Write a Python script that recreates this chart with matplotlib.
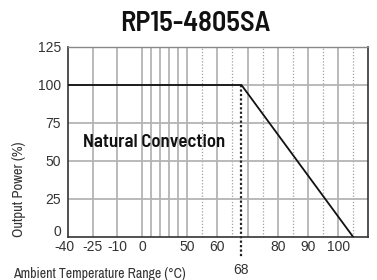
import numpy as np
import matplotlib
matplotlib.use("Agg")
import matplotlib.pyplot as plt
import matplotlib.transforms as mtransforms

# Data
temp = [-40, 68, 105]
power = [100, 100, 0]
xtick_vals = [-40, -25, -10, 0, 50, 60, 80, 90, 100]
xtick_labels = ["-40", "-25", "-10", "0", "50", "60", "80", "90", "100"]
solid_grid = [-25, -10, 0, 10, 20, 30, 40, 50, 60, 70, 80, 90, 100]
dotted_grid = [55, 65, 75, 85, 95, 105]
knee = 68
yticks = [0, 25, 50, 75, 100, 125]

# piecewise axis (non-linear temperature axis)
bp_t = [-40, -25, -10, 0, 50, 110]
bp_u = [0, 24.5, 49, 74, 119, 300]

def fwd(x):
    return np.interp(x, bp_t, bp_u, left=-1e3, right=1e3)

def inv(u):
    return np.interp(u, bp_u, bp_t)

cond = ["Barlow Semi Condensed", "DejaVu Sans"]
narrow = ["Archivo Narrow", "DejaVu Sans"]
reg = ["Liberation Sans", "DejaVu Sans"]

fig = plt.figure(figsize=(3.77, 2.80), dpi=100)
ax = fig.add_axes([68/377, 1-237/280, 300.3/377, 190/280])
ax.set_xscale("function", functions=(fwd, inv))
ax.set_xlim(-40, 110)
ax.set_ylim(0, 125)

gc = "#b4b4b4"
for g in solid_grid:
    ax.axvline(g, color=gc, lw=1.3, zorder=1)
for g in dotted_grid:
    ax.axvline(g, color="#a0a0a0", lw=0.9, ls=(0, (1, 1.5)), zorder=1)
for y in [25, 50, 75, 100]:
    ax.axhline(y, color=gc, lw=1.3, zorder=1)

ax.plot([knee, knee], [100, -13.5], color="#222222", lw=1.6, ls=(0, (1, 1)),
        clip_on=False, zorder=2)
ax.plot(temp, power, color="#111111", lw=1.3, zorder=3)

ax.set_xticks(xtick_vals)
ax.set_xticklabels(xtick_labels)
ax.set_yticks(yticks)
ax.tick_params(length=0, labelsize=10, colors="#333333")
ax.tick_params(axis="x", pad=2)
ax.tick_params(axis="y", pad=5)
for lab in ax.get_xticklabels() + ax.get_yticklabels():
    lab.set_family(reg)
ax.minorticks_off()
# lift the "0" label of the y axis clear of the x labels
ylabs = ax.get_yticklabels()
ylabs[0].set_transform(ylabs[0].get_transform() +
                       mtransforms.ScaledTranslation(0, 6/100, fig.dpi_scale_trans))
xlabs = ax.get_xticklabels()
xlabs[0].set_transform(xlabs[0].get_transform() +
                       mtransforms.ScaledTranslation(-4/100, 0, fig.dpi_scale_trans))

for s in ["left", "bottom", "right"]:
    ax.spines[s].set_color("#333333")
    ax.spines[s].set_linewidth(1.2)
ax.spines["top"].set_color("#888888")
ax.spines["top"].set_linewidth(1.0)

ax.text(knee, -21.5, str(knee), ha="center", va="center", fontsize=10,
        color="#333333", family=reg)

ax.text(-31, 62, "Natural Convection", fontsize=13.5, fontweight=600,
        family=cond, color="#111111", va="center", ha="left")

fig.text(195.5/377, 1-23.5/280, "RP15-4805SA", fontsize=20.5, fontweight=600,
         family=cond, ha="center", va="center", color="#111111")

fig.text(13/377, 1-274/280, "Ambient Temperature Range (\u00b0C)", fontsize=10,
         family=narrow, ha="left", va="center", color="#333333")
fig.text(19/377, 1-189/280, "Output Power (%)", fontsize=10.5, rotation=90,
         family=narrow, ha="center", va="center", color="#333333")

fig.savefig("out.png", dpi=100)
